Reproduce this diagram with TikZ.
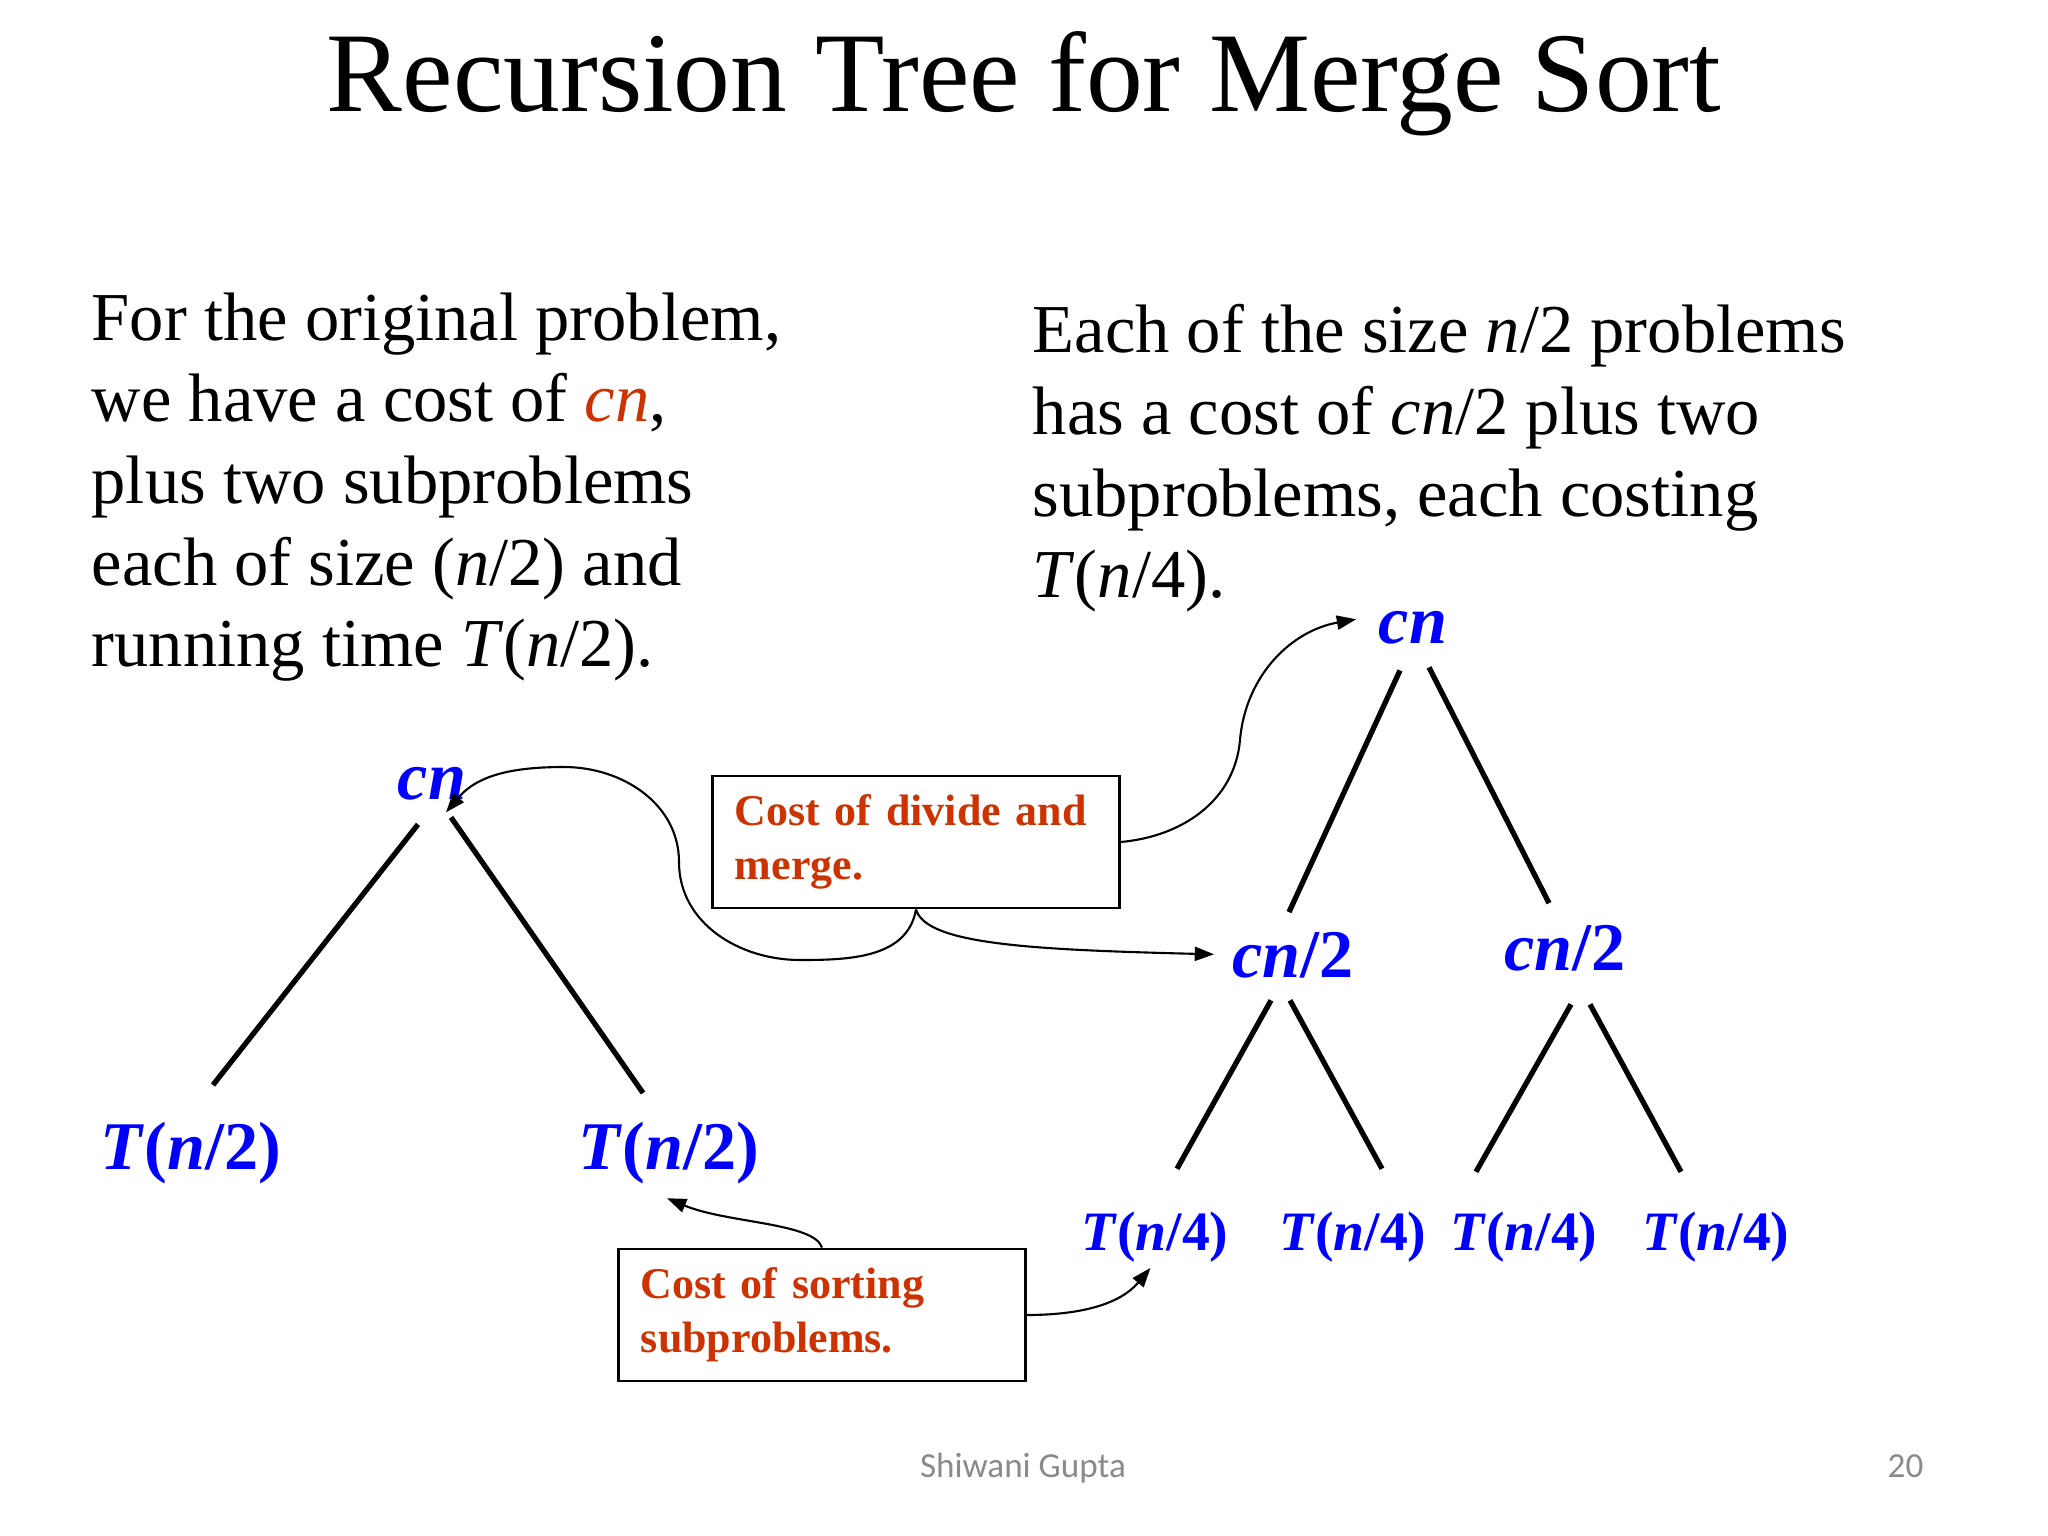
\documentclass[tikz,border=0pt]{standalone}
\usepackage{fontspec}
\setmainfont{Liberation Serif}
\newfontfamily\footfont{Carlito}
\usetikzlibrary{arrows.meta,positioning,calc}
\definecolor{cBlue}{HTML}{0000FF}
\definecolor{cRust}{HTML}{CC3300}
\definecolor{cFoot}{HTML}{8A8A8A}

\begin{document}
\begin{tikzpicture}[x=0.01cm, y=0.01cm, >={Triangle[length=5.5pt,width=4pt]},
  lbl/.style={text=cBlue, inner sep=0pt, anchor=base, font=\fontsize{19.4}{24}\selectfont\bfseries},
  leaf/.style={lbl, font=\fontsize{15.8}{19}\selectfont\bfseries},
  body/.style={anchor=north west, align=left, inner sep=0pt, font=\fontsize{19.5}{23.2}\selectfont},
  note/.style={draw, line width=0.8pt, text=cRust, font=\fontsize{12.5}{15.4}\selectfont\bfseries,
    minimum width=4.06cm, minimum height=1.32cm, text width=3.62cm, align=left, inner xsep=0.22cm},
  edge/.style={line width=1.5pt},
  arr/.style={->, line width=0.6pt},
  foot/.style={inner sep=0pt, font=\footfont\fontsize{10}{12}\selectfont, text=cFoot}]
  \useasboundingbox (0,0) rectangle (2048,-1536);
  \fill[white] (0,0) rectangle (2048,-1536);
  \node[anchor=base, font=\fontsize{32.3}{38}\selectfont] (title) at (1024,-111) {Recursion Tree for Merge Sort};
  % explanations
  \node[body] (lefttext) at (91,-292) {For the original problem,\\ we have a cost of \textcolor{cRust}{\textit{cn}},\\ plus two subproblems\\ each of size (\textit{n}/2) and\\ running time \textit{T}(\textit{n}/2).};
  \node[body] (righttext) at (1032,-304) {Each of the size \textit{n}/2 problems\\ has a cost of \textit{cn}/2 plus two\\ subproblems, each costing\\ \textit{T}(\textit{n}/4).};
  % first level
  \node[lbl] (cnL) at (432,-799) {\textit{cn}};
  \node[lbl] (TL) at (191,-1169) {\textit{T}(\textit{n}/2)};
  \node[lbl] (TR) at (669,-1169) {\textit{T}(\textit{n}/2)};
  \draw[edge] ($(cnL.south)+(-14,-24)$) -- ($(TL.north)+(22,36)$);
  \draw[edge] ($(cnL.south)+(19,-17)$) -- ($(TR.north)+(-26,28)$);
  % second level
  \node[lbl] (cnR) at (1413,-643) {\textit{cn}};
  \node[lbl] (halfL) at (1293,-977) {\textit{cn}/2};
  \node[lbl] (halfR) at (1565,-970) {\textit{cn}/2};
  \foreach \x [count=\i] in {1155,1353,1524,1716}
    \node[leaf] (q\i) at (\x,-1250) {\textit{T}(\textit{n}/4)};
  \draw[edge] ($(cnR.south)+(-13,-26)$) -- ($(halfL.north)+(-4,19)$);
  \draw[edge] ($(cnR.south)+(16,-23)$) -- ($(halfR.north)+(-16,21)$);
  \draw[edge] ($(halfL.south)+(-22,-22)$) -- ($(q1.north)+(22,42)$);
  \draw[edge] ($(halfL.south)+(-3,-22)$) -- ($(q2.north)+(29,42)$);
  \draw[edge] ($(halfR.south)+(6,-33)$) -- ($(q3.north)+(-48,39)$);
  \draw[edge] ($(halfR.south)+(25,-33)$) -- ($(q4.north)+(-35,39)$);
  % notes
  \node[note] (merge) at (916,-842) {Cost of divide and merge.};
  \node[note] (sort) at (822,-1315) {Cost of sorting subproblems.};
  \draw[arr] (merge.south) to[out=-100,in=0] (800,-960) to[out=180,in=-90] (679,-862)
    to[out=90,in=0] (564,-767) to[out=180,in=50] ($(cnL.south)+(14,-12)$);
  \draw[arr, shorten >=5pt] (merge.south) .. controls +(10,-35) and +(-200,5) .. (halfL.west);
  \draw[arr] (merge.east) to[out=5,in=-95] (1240,-740) to[out=85,in=190] ($(cnR.west)+(-22,8)$);
  \draw[arr] (sort.north) .. controls +(-8,25) and +(60,-25) .. ($(TR.south)+(-2,-14)$);
  \draw[arr, shorten >=2pt] (sort.east) to[out=0,in=-130] (q1.south);
  % footer
  \node[foot, anchor=base] (author) at (1023,-1477) {Shiwani Gupta};
  \node[foot, anchor=base east] (page) at (1924,-1477) {20};
\end{tikzpicture}
\end{document}
